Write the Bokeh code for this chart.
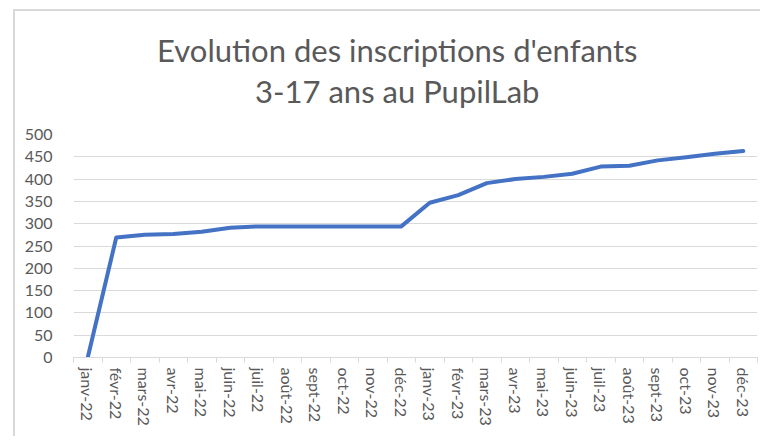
from bokeh.plotting import figure
from bokeh.layouts import column, row
from bokeh.models import (FixedTicker, SingleIntervalTicker, Range1d, ColumnDataSource, Spacer)
from bokeh.core.properties import value
from bokeh.embed import file_html
from bokeh.resources import INLINE

months = ["janv-22", "févr-22", "mars-22", "avr-22", "mai-22", "juin-22",
          "juil-22", "août-22", "sept-22", "oct-22", "nov-22", "déc-22",
          "janv-23", "févr-23", "mars-23", "avr-23", "mai-23", "juin-23",
          "juil-23", "août-23", "sept-23", "oct-23", "nov-23", "déc-23"]
inscriptions = [0, 269, 275, 277, 282, 291, 294, 294, 294, 294, 294, 294,
                347, 364, 391, 400, 405, 412, 428, 430, 442, 449, 457, 463]
title_lines = ["Evolution des inscriptions d'enfants", "3-17 ans au PupilLab"]

FONT = "Lato"
GREY = "#595959"
LIGHT = "#d9d9d9"

idx = list(range(len(months)))
src = ColumnDataSource(dict(x=idx, y=inscriptions))
xr = Range1d(-0.5, len(months) - 0.5)

W = 745
MB_L, MB_R = 58, 3
# --- title strip (same horizontal frame as the chart) ---
TH = 113
t = figure(width=W, height=TH, output_backend="svg", toolbar_location=None,
           x_range=xr, y_range=Range1d(0, TH),
           x_axis_location=None, y_axis_location=None,
           min_border_left=MB_L, min_border_right=MB_R, min_border_top=0, min_border_bottom=0)
t.outline_line_color = None
t.xgrid.visible = False
t.ygrid.visible = False
t.border_fill_color = "white"
tsrc = ColumnDataSource(dict(x=[10.86, 10.86], y=[75, 34], text=title_lines))
t.text("x", "y", text="text", source=tsrc, text_align="center",
       text_baseline="alphabetic", text_font=value(FONT),
       text_font_size="31px", text_color=GREY)

# --- chart ---
PH = 312
p = figure(width=W, height=PH, output_backend="svg", toolbar_location=None,
           x_range=xr, y_range=Range1d(0, 500),
           min_border_left=MB_L, min_border_right=MB_R, min_border_top=10, min_border_bottom=79)
p.outline_line_color = None
p.background_fill_color = "white"
p.border_fill_color = "white"

p.line("x", "y", source=src, line_color="#4472C4", line_width=4,
       line_join="round", line_cap="round")

xa = p.xaxis[0]
xa.ticker = FixedTicker(ticks=idx, minor_ticks=[i - 0.5 for i in range(len(months) + 1)])
xa.major_label_overrides = {i: m for i, m in enumerate(months)}
xa.major_label_orientation = "vertical"
xa.major_tick_line_color = None
xa.major_tick_out = 5
xa.major_tick_in = 0
xa.minor_tick_out = 5
xa.minor_tick_in = 0
xa.minor_tick_line_color = LIGHT
xa.axis_line_color = LIGHT
xa.axis_line_width = 1
xa.major_label_standoff = 5
xa.major_label_text_font = FONT
xa.major_label_text_font_size = "16px"
xa.major_label_text_color = GREY

ya = p.yaxis[0]
ya.ticker = SingleIntervalTicker(interval=50)
ya.axis_line_color = None
ya.major_tick_line_color = None
ya.minor_tick_line_color = None
ya.major_tick_out = 0
ya.major_tick_in = 0
ya.major_label_standoff = 17
ya.major_label_text_font = FONT
ya.major_label_text_font_size = "16px"
ya.major_label_text_color = GREY

p.xgrid.grid_line_color = None
p.ygrid.grid_line_color = LIGHT
p.ygrid.grid_line_width = 1

# chart-area frame: top and left edges (the others fall outside the window)
top_edge = Spacer(width=W + 2, height=2, styles={"background-color": LIGHT})
left_edge = Spacer(width=2, height=TH + PH, styles={"background-color": LIGHT})

layout = column(top_edge, row(left_edge, column(t, p, spacing=0), spacing=0),
                spacing=0, margin=(9, 0, 0, 13))

open("out.html", "w").write(file_html(layout, INLINE))
